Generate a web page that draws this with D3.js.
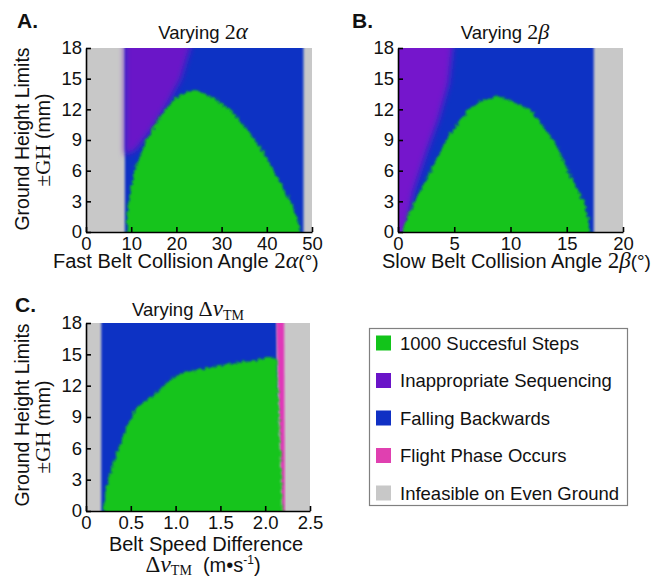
<!DOCTYPE html>
<html>
<head>
<meta charset="utf-8">
<script src="https://cdn.jsdelivr.net/npm/d3@7"></script>
<style>
  body { margin: 0; background: #fff; }
  svg text { font-family: "Liberation Sans", Arial, sans-serif; fill: #111; }
  .math { font-family: "Liberation Serif", "DejaVu Serif", serif; }
</style>
</head>
<body>
<script>
// values, boundaries given as [x, ground height]
const yTicks = [0, 3, 6, 9, 12, 15, 18];

const alphaTicks = [0, 10, 20, 30, 40, 50];
const alphaFeasible = [8.6, 48.1];
const alphaPurple = [[8.6, 18], [24, 18], [21, 15], [18, 12.5], [14.5, 10], [11, 8], [8.6, 7.5]];
const alphaSuccess = [[8.9, 0], [9.1, 1.5], [9.4, 3], [10, 4.5], [10.8, 6], [12, 7.5], [13.4, 9],
  [15.3, 10.5], [17.5, 12], [20, 13.1], [22.5, 13.7], [24.2, 13.9], [26, 13.6], [28.5, 13],
  [31.9, 12], [34.8, 10.5], [37.4, 9], [39.6, 7.5], [41.5, 6], [43.4, 4.5], [45.2, 3], [46.7, 1.5], [48, 0]];

const betaTicks = [0, 5, 10, 15, 20];
const betaFeasible = [0, 17.4];
const betaPurple = [[0, 0], [0, 18], [5, 18], [4.5, 14.5], [3.6, 11], [2.6, 8], [1.4, 4], [0.4, 0]];
const betaSuccess = [[0.2, 0], [0.8, 1.5], [1.5, 3], [2.2, 4.5], [2.9, 6], [3.6, 7.5], [4.3, 9],
  [5.2, 10.5], [6.3, 12], [7.5, 12.9], [8.7, 13.3], [10, 12.9], [11.7, 12], [12.8, 10.5],
  [13.8, 9], [14.5, 7.5], [15.1, 6], [15.8, 4.5], [16.5, 3], [16.9, 1.5], [17.3, 0]];

const dvTicks = [0, 0.5, 1.0, 1.5, 2.0, 2.5];
const dvTickLabels = ["0", "0.5", "1.0", "1.5", "2.0", "2.5"];
const dvFeasible = [0.17, 2.13];
const dvFlight = [[2.12, 18], [2.21, 18], [2.22, 0], [2.19, 0]];
const dvSuccess = [[0.19, 0], [0.21, 1.5], [0.25, 3], [0.3, 4.5], [0.36, 6], [0.42, 7.2], [0.48, 8.5],
  [0.55, 9.7], [0.65, 10.5], [0.74, 11], [0.85, 11.8], [0.96, 12.7], [1.1, 13.3], [1.3, 13.6],
  [1.5, 14], [1.7, 14.2], [1.85, 14.4], [2.0, 14.6], [2.1, 14.7], [2.13, 14.5], [2.2, 0]];

const legendLabels = ["1000 Succesful Steps", "Inappropriate Sequencing", "Falling Backwards",
  "Flight Phase Occurs", "Infeasible on Even Ground"];
const legendColors = ["#12c41a", "#6a14c8", "#1030c4", "#e040b0", "#c8c8c8"];

const col = {green: "#12c41a", blue: "#1030c4", pink: "#e038b8", gray: "#c8c8c8"};

const svg = d3.select("body").append("svg")
  .attr("width", 665).attr("height", 577);

const defs = svg.append("defs");
defs.append("filter").attr("id", "soft")
  .append("feGaussianBlur").attr("stdDeviation", 1.3);
defs.append("filter").attr("id", "wide")
  .attr("x", "-30%").attr("y", "-30%").attr("width", "160%").attr("height", "160%")
  .append("feGaussianBlur").attr("stdDeviation", 3);
const rough = defs.append("filter").attr("id", "rough");
rough.append("feTurbulence").attr("type", "fractalNoise").attr("baseFrequency", 0.35)
  .attr("numOctaves", 2).attr("seed", 4).attr("result", "n");
rough.append("feDisplacementMap").attr("in", "SourceGraphic").attr("in2", "n")
  .attr("scale", 7).attr("xChannelSelector", "R").attr("yChannelSelector", "G").attr("result", "d");
rough.append("feGaussianBlur").attr("in", "d").attr("stdDeviation", 1.3);

function drawPanel(p) {
  const x = d3.scaleLinear().domain(p.xDomain).range([p.left, p.right]);
  const y = d3.scaleLinear().domain([0, 18]).range([p.bottom, p.top]);
  const pad = 14;
  // push points sitting on the plot edge outward so the blur doesn't fade at the border
  const px = v => v <= p.xDomain[0] ? x(v) - pad : v >= p.xDomain[1] ? x(v) + pad : x(v);
  const py = v => v <= 0 ? y(v) + pad : v >= 18 ? y(v) - pad : y(v);
  const line = d3.line().x(d => px(d[0])).y(d => py(d[1]));

  defs.append("clipPath").attr("id", "clip" + p.id)
    .append("rect").attr("x", p.left).attr("y", p.top)
    .attr("width", p.right - p.left).attr("height", p.bottom - p.top);

  const g = svg.append("g").attr("clip-path", `url(#clip${p.id})`);
  g.append("rect").attr("x", p.left - pad).attr("y", p.top - pad)
    .attr("width", p.right - p.left + 2 * pad).attr("height", p.bottom - p.top + 2 * pad)
    .attr("fill", col.gray);

  g.append("rect")
    .attr("x", px(p.feasible[0])).attr("width", px(p.feasible[1]) - px(p.feasible[0]))
    .attr("y", py(18)).attr("height", py(0) - py(18))
    .attr("fill", col.blue).attr("filter", "url(#soft)");
  if (p.purple) {
    g.append("path").attr("d", line(p.purple) + "Z")
      .attr("fill", p.purpleColor).attr("filter", "url(#wide)");
  }
  if (p.flight) {
    g.append("path").attr("d", line(p.flight) + "Z")
      .attr("fill", col.pink).attr("filter", "url(#soft)");
  }
  g.append("path").attr("d", line(p.success) + "Z")
    .attr("fill", col.green).attr("filter", "url(#rough)");

  // axes, ticks pointing inward
  const yAxis = svg.append("g").attr("transform", `translate(${p.left},0)`)
    .call(d3.axisLeft(y).tickValues(yTicks).tickSize(-5).tickSizeOuter(0).tickPadding(4));
  const xAxis = svg.append("g").attr("transform", `translate(0,${p.bottom})`)
    .call(d3.axisBottom(x).tickValues(p.ticks).tickSize(-5).tickSizeOuter(0).tickPadding(5)
      .tickFormat((d, i) => p.tickLabels ? p.tickLabels[i] : d));
  [xAxis, yAxis].forEach(a => {
    a.selectAll("path.domain").attr("stroke", "#000").attr("stroke-width", 1.6);
    a.selectAll(".tick line").attr("stroke", "#000").attr("stroke-width", 1.6);
    a.selectAll(".tick text").attr("font-size", 18.5).attr("fill", "#111")
      .attr("font-family", "Liberation Sans, Arial, sans-serif");
  });

  svg.append("text").attr("x", p.letterX).attr("y", p.letterY)
    .attr("font-size", 21).attr("font-weight", "bold").text(p.letter);
}

function yTitle(cy1, cy2) {
  svg.append("text").attr("transform", `translate(29,${cy1}) rotate(-90)`)
    .attr("text-anchor", "middle").attr("font-size", 19.5).text("Ground Height Limits");
  const t = svg.append("text").attr("transform", `translate(50,${cy2}) rotate(-90)`)
    .attr("text-anchor", "middle").attr("font-size", 19.5);
  t.append("tspan").attr("class", "math").attr("font-size", 21).text("\u00b1GH");
  t.append("tspan").text(" (mm)");
}

drawPanel({id: "A", letter: "A.", letterX: 17, letterY: 28, xDomain: [0, 50], ticks: alphaTicks,
  left: 86, right: 312, top: 48, bottom: 232, purpleColor: "#6a16c8",
  feasible: alphaFeasible, purple: alphaPurple, success: alphaSuccess});
drawPanel({id: "B", letter: "B.", letterX: 352, letterY: 28, xDomain: [0, 20], ticks: betaTicks,
  left: 398, right: 623, top: 48, bottom: 232, purpleColor: "#7418cc",
  feasible: betaFeasible, purple: betaPurple, success: betaSuccess});
drawPanel({id: "C", letter: "C.", letterX: 15, letterY: 312, xDomain: [0, 2.5], ticks: dvTicks,
  tickLabels: dvTickLabels, left: 86, right: 310, top: 323, bottom: 511,
  feasible: dvFeasible, flight: dvFlight, success: dvSuccess});

yTitle(139, 140);
yTitle(415, 427);

function mathPart(t, sym, italic, size) {
  const s = t.append("tspan").attr("class", "math").attr("font-size", size).text(sym);
  if (italic) s.attr("font-style", "italic");
  return s;
}

// panel titles
let t = svg.append("text").attr("x", 203).attr("y", 39).attr("text-anchor", "middle").attr("font-size", 18.5);
t.append("tspan").text("Varying ");
mathPart(t, "2", false, 22);
mathPart(t, "\u03b1", true, 23);

t = svg.append("text").attr("x", 505).attr("y", 39).attr("text-anchor", "middle").attr("font-size", 18.5);
t.append("tspan").text("Varying ");
mathPart(t, "2", false, 22);
mathPart(t, "\u03b2", true, 22);

t = svg.append("text").attr("x", 188).attr("y", 316).attr("text-anchor", "middle").attr("font-size", 18.5);
t.append("tspan").text("Varying ");
mathPart(t, "\u0394", false, 22);
mathPart(t, "v", true, 23);
mathPart(t, "TM", false, 14).attr("dy", 4);

// x axis titles
t = svg.append("text").attr("x", 53).attr("y", 268).attr("font-size", 20);
t.append("tspan").text("Fast Belt Collision Angle ");
mathPart(t, "2", false, 23);
mathPart(t, "\u03b1", true, 24);
t.append("tspan").attr("font-size", 19).text("(\u00b0)");

t = svg.append("text").attr("x", 382).attr("y", 268).attr("font-size", 20);
t.append("tspan").text("Slow Belt Collision Angle ");
mathPart(t, "2", false, 23);
mathPart(t, "\u03b2", true, 23);
t.append("tspan").attr("font-size", 19).text("(\u00b0)");

svg.append("text").attr("x", 206).attr("y", 551).attr("text-anchor", "middle")
  .attr("font-size", 20).text("Belt Speed Difference");
t = svg.append("text").attr("x", 203).attr("y", 572).attr("text-anchor", "middle").attr("font-size", 20);
mathPart(t, "\u0394", false, 23);
mathPart(t, "v", true, 24);
mathPart(t, "TM", false, 14).attr("dy", 3);
t.append("tspan").attr("dy", -3).text("\u00a0\u00a0(m\u2022s");
t.append("tspan").attr("font-size", 12).attr("dy", -8).text("-1");
t.append("tspan").attr("dy", 8).text(")");

// legend
const legend = svg.append("g");
legend.append("rect").attr("x", 369.5).attr("y", 328.5).attr("width", 258).attr("height", 177)
  .attr("fill", "#fff").attr("stroke", "#808080").attr("stroke-width", 1.2);
const item = legend.selectAll("g.item").data(legendLabels).join("g")
  .attr("class", "item")
  .attr("transform", (d, i) => `translate(376,${343 + i * 37.5})`);
item.append("rect").attr("x", 0).attr("y", -7.5).attr("width", 15).attr("height", 15)
  .attr("fill", (d, i) => legendColors[i]);
item.append("text").attr("x", 24).attr("y", 6.5).attr("font-size", 18.5).attr("fill", "#222")
  .text(d => d);
</script>
</body>
</html>
